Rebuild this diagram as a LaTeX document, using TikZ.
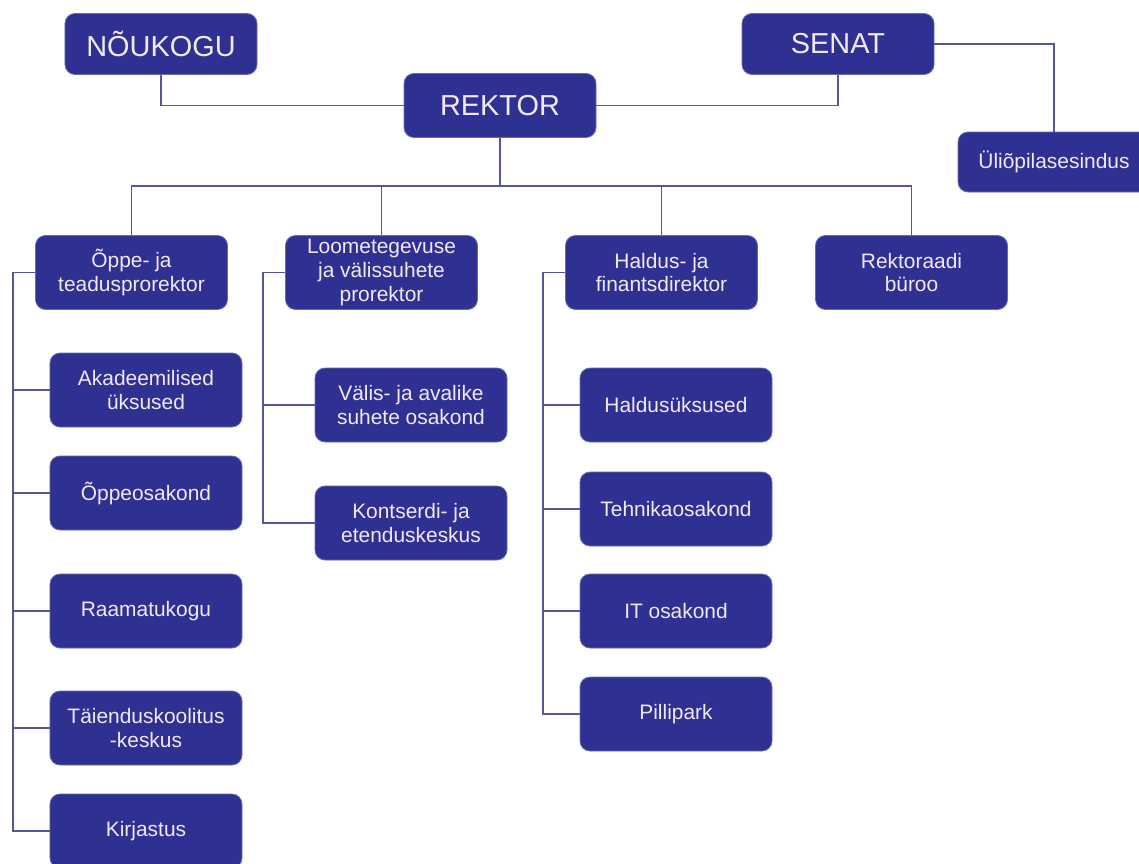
\documentclass[tikz,border=0pt]{standalone}
\usepackage{fontspec}
\setmainfont{Liberation Sans}
\definecolor{boxfill}{HTML}{2E3192}
\definecolor{boxedge}{HTML}{6A6CB2}
\definecolor{boxtext}{HTML}{F4E8F0}
\definecolor{linkcol}{HTML}{55579C}
\tikzset{
  unit/.style={rectangle, rounded corners=10bp, fill=boxfill, draw=boxedge, line width=0.8bp,
    text=boxtext, align=center, minimum width=192bp, minimum height=74bp, inner sep=2bp,
    font=\fontsize{21}{24}\selectfont},
  topunit/.style={unit, minimum height=61bp, font=\fontsize{29}{32}\selectfont},
  midunit/.style={unit, minimum height=60bp},
  link/.style={draw=linkcol, line width=1.3bp}
}
\begin{document}
\begin{tikzpicture}[x=1bp,y=-1bp]
\useasboundingbox (0,0) rectangle (1139,864);
% top
\node[topunit] (nou) at (161,44) {NÕUKOGU};
\node[topunit, minimum height=64bp] (rek) at (500,105.5) {REKTOR};
\node[topunit] (sen) at (838,44) {SENAT};
\node[midunit] (uli) at (1054,162) {Üliõpilasesindus};
% second level
\node[unit] (opp) at (131.5,272.5) {Õppe- ja\\teadusprorektor};
\node[unit] (loo) at (381.5,272.5) {Loometegevuse\\ja välissuhete\\prorektor};
\node[unit] (hal) at (661.5,272.5) {Haldus- ja\\finantsdirektor};
\node[unit] (rbu) at (911.5,272.5) {Rektoraadi\\büroo};
% left column
\node[unit] (aka) at (146,390) {Akadeemilised\\üksused};
\node[unit] (oppo) at (146,493) {Õppeosakond};
\node[unit] (raa) at (146,611) {Raamatukogu};
\node[unit] (tai) at (146,728) {Täienduskoolitus\\-keskus};
\node[unit] (kir) at (146,831) {Kirjastus};
% middle column
\node[unit] (val) at (411,405) {Välis- ja avalike\\suhete osakond};
\node[unit] (kon) at (411,523) {Kontserdi- ja\\etenduskeskus};
% right column
\node[unit] (hue) at (676,405) {Haldusüksused};
\node[unit] (teh) at (676,509) {Tehnikaosakond};
\node[unit] (itk) at (676,611) {IT osakond};
\node[unit] (pil) at (676,714) {Pillipark};
% coordinates
\coordinate (busL) at (131.5,186);
\coordinate (busR) at (911.5,186);
\coordinate (tL) at (13,272.5);
\coordinate (tM) at (263,272.5);
\coordinate (tR) at (543,272.5);
% top connectors
\draw[link] (rek.west) -| (nou.south);
\draw[link] (rek.east) -| (sen.south);
\draw[link] (sen.east) -| (uli.north);
% bus
\draw[link] (opp.north) -- (busL) -- (busR) -- (rbu.north);
\draw[link] (rek.south) -- (rek.south |- busL);
\draw[link] (loo.north) -- (loo.north |- busL);
\draw[link] (hal.north) -- (hal.north |- busL);
% left trunk
\draw[link] (opp.west) -- (tL) |- (kir.west);
\draw[link] (aka.west) -- (aka.west -| tL);
\draw[link] (oppo.west) -- (oppo.west -| tL);
\draw[link] (raa.west) -- (raa.west -| tL);
\draw[link] (tai.west) -- (tai.west -| tL);
% middle trunk
\draw[link] (loo.west) -- (tM) |- (kon.west);
\draw[link] (val.west) -- (val.west -| tM);
% right trunk
\draw[link] (hal.west) -- (tR) |- (pil.west);
\draw[link] (hue.west) -- (hue.west -| tR);
\draw[link] (teh.west) -- (teh.west -| tR);
\draw[link] (itk.west) -- (itk.west -| tR);
\end{tikzpicture}
\end{document}
